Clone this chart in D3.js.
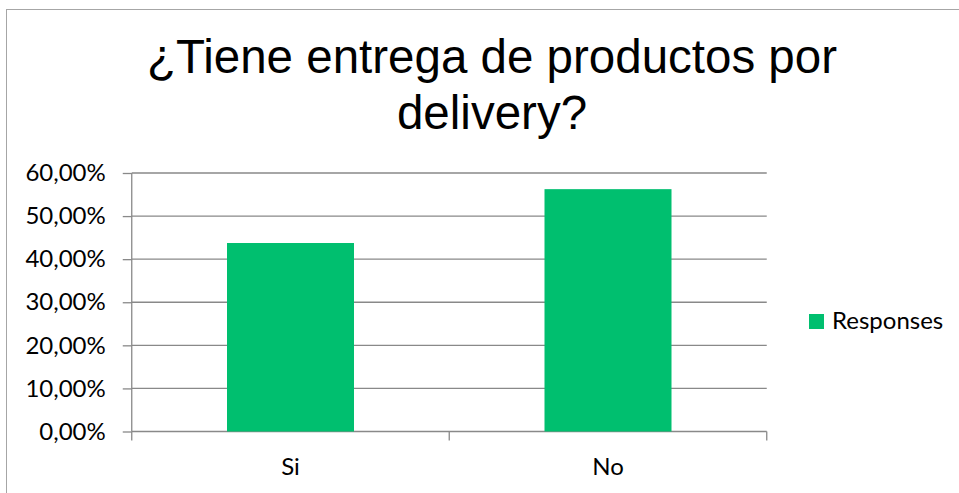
<!DOCTYPE html>
<html>
<head>
<meta charset="utf-8">
<script src="https://cdnjs.cloudflare.com/ajax/libs/d3/7.8.5/d3.min.js"></script>
<style>
  body { margin: 0; background: #fff; }
  text { font-family: Lato, 'Noto Sans', sans-serif; }
</style>
</head>
<body>
<div id="chart"></div>
<script>
document.addEventListener('DOMContentLoaded', init, false);

var width = 959;
var height = 493;

var titleLines = ['¿Tiene entrega de productos por', 'delivery?'];
var categories = ['Si', 'No'];
var responses = [0.4375, 0.5625];
var yTicks = [0, 0.1, 0.2, 0.3, 0.4, 0.5, 0.6];
var seriesName = 'Responses';

var plot = { left: 131.75, right: 766.75, top: 173, bottom: 431.5 };

var gridColor = '#898989';
var barColor = '#00bf6f';

function init() {

  var svg = d3.select('#chart')
    .append('svg')
      .attr('width', width)
      .attr('height', height);

  // chart frame (runs off the page on the right and bottom)
  svg.append('rect')
    .attr('x', 6.5)
    .attr('y', 9.5)
    .attr('width', 1100)
    .attr('height', 700)
    .attr('fill', '#fff')
    .attr('stroke', '#a6a6a6')
    .attr('stroke-width', 1);

  drawTitle(svg);
  var scale = drawAxis(svg);
  drawBars(svg, scale);
  drawLegend(svg);
}

function drawTitle(svg) {

  svg.append('text')
      .attr('x', 492)
      .attr('y', 73)
      .attr('text-anchor', 'middle')
      .style('font-family', "'Liberation Sans', Arial, sans-serif")
      .style('font-size', '47.5px')
      .attr('fill', '#000')
    .selectAll('tspan')
      .data(titleLines)
      .enter()
    .append('tspan')
      .attr('x', 492)
      .attr('dy', function (d, i) { return i === 0 ? 0 : 56; })
      .text(function (d) { return d; });
}

function drawAxis(svg) {

  var xScale = d3.scaleBand()
    .domain(categories)
    .range([plot.left, plot.right])
    .paddingInner(0.6)
    .paddingOuter(0.3);

  var yScale = d3.scaleLinear()
    .domain([0, 0.6])
    .range([plot.bottom, plot.top]);

  var fmt = function (v) {
    return (v * 100).toFixed(2).replace('.', ',') + '%';
  };

  // horizontal gridlines
  svg.append('g')
    .selectAll('line')
      .data(yTicks.slice(1))
      .enter()
    .append('line')
      .attr('x1', plot.left)
      .attr('x2', plot.right)
      .attr('y1', function (d) { return yScale(d); })
      .attr('y2', function (d) { return yScale(d); })
      .attr('stroke', gridColor)
      .attr('stroke-width', 1.3);

  var yAxis = svg.append('g')
    .attr('transform', 'translate(' + plot.left + ',0)')
    .call(d3.axisLeft(yScale)
      .tickValues(yTicks)
      .tickFormat(fmt)
      .tickSize(9)
      .tickPadding(17));

  yAxis.select('.domain')
    .attr('d', 'M0,' + plot.top + 'V' + plot.bottom)
    .attr('stroke', gridColor)
    .attr('stroke-width', 1.3);
  yAxis.selectAll('.tick line')
    .attr('stroke', gridColor)
    .attr('stroke-width', 1.3);
  yAxis.selectAll('.tick text')
    .attr('fill', '#000')
    .style('font-size', '24px');

  // category axis with ticks at the band boundaries
  var bounds = [plot.left, plot.left + xScale.step(), plot.right];

  svg.append('line')
    .attr('x1', plot.left)
    .attr('x2', plot.right)
    .attr('y1', plot.bottom)
    .attr('y2', plot.bottom)
    .attr('stroke', gridColor)
    .attr('stroke-width', 1.3);

  svg.append('g')
    .selectAll('line')
      .data(bounds)
      .enter()
    .append('line')
      .attr('x1', function (d) { return d; })
      .attr('x2', function (d) { return d; })
      .attr('y1', plot.bottom)
      .attr('y2', plot.bottom + 9)
      .attr('stroke', gridColor)
      .attr('stroke-width', 1.3);

  svg.append('g')
    .selectAll('text')
      .data(categories)
      .enter()
    .append('text')
      .attr('x', function (d) { return xScale(d) + xScale.bandwidth() / 2; })
      .attr('y', 475)
      .attr('text-anchor', 'middle')
      .attr('fill', '#000')
      .style('font-size', '24px')
      .text(function (d) { return d; });

  return {
    x: xScale,
    y: yScale
  };
}

function drawBars(svg, scale) {

  svg.append('g')
    .selectAll('rect')
      .data(categories)
      .enter()
    .append('rect')
      .attr('x', function (d) { return scale.x(d); })
      .attr('y', function (d, i) { return scale.y(responses[i]); })
      .attr('width', scale.x.bandwidth())
      .attr('height', function (d, i) { return scale.y(0) - scale.y(responses[i]); })
      .attr('fill', barColor);
}

function drawLegend(svg) {

  var legend = svg.append('g')
    .attr('transform', 'translate(809,314)');

  legend.append('rect')
    .attr('width', 15)
    .attr('height', 15)
    .attr('fill', barColor);

  legend.append('text')
    .attr('x', 23)
    .attr('y', 15)
    .attr('fill', '#000')
    .style('font-size', '24px')
    .text(seriesName);
}
</script>
</body>
</html>
